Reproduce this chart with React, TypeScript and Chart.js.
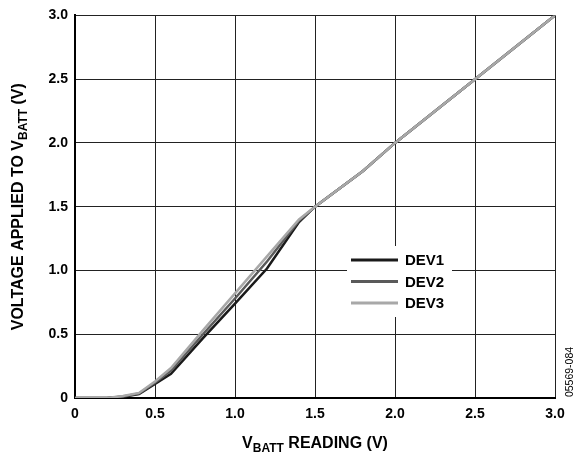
import React, { useEffect, useRef } from "react";
import { Chart, registerables } from "chart.js";

Chart.register(...registerables);

const xReading = [0, 0.2, 0.3, 0.4, 0.5, 0.6, 0.8, 1.0, 1.2, 1.4, 1.5, 1.8, 2.0, 2.5, 3.0];
const dev1 = [0, 0, 0.01, 0.03, 0.11, 0.19, 0.47, 0.74, 1.015, 1.38, 1.5, 1.78, 2.0, 2.5, 3.0];
const dev2 = [0, 0, 0.012, 0.035, 0.12, 0.215, 0.5, 0.78, 1.07, 1.39, 1.5, 1.78, 2.0, 2.5, 3.0];
const dev3 = [0, 0, 0.015, 0.04, 0.13, 0.235, 0.53, 0.82, 1.11, 1.4, 1.5, 1.78, 2.0, 2.5, 3.0];
const seriesNames = ["DEV1", "DEV2", "DEV3"];
const seriesColors = ["#1a1a1a", "#5a5a5a", "#a8a8a8"];
const tickValues = [0, 0.5, 1.0, 1.5, 2.0, 2.5, 3.0];
const xTitleMain = "V";
const xTitleSub = "BATT";
const xTitleRest = " READING (V)";
const yTitleMain = "VOLTAGE APPLIED TO V";
const yTitleSub = "BATT";
const yTitleRest = " (V)";
const sideNote = "05569-084";

const FONT = "'Liberation Sans', Arial, Helvetica, sans-serif";

function fmt(v: number) {
  return v === 0 ? "0" : v.toFixed(1);
}

const overlayPlugin = {
  id: "overlay",
  afterDraw(chart: any) {
    const ctx: CanvasRenderingContext2D = chart.ctx;
    const area = chart.chartArea;
    ctx.save();
    // legend
    const lx = 347, ly = 246, lw = 105, lh = 71;
    ctx.fillStyle = "#ffffff";
    ctx.fillRect(lx, ly, lw, lh);
    chart.data.datasets.forEach((ds: any, i: number) => {
      const y = 260 + i * 21.5;
      ctx.strokeStyle = ds.borderColor;
      ctx.lineWidth = 3;
      ctx.beginPath();
      ctx.moveTo(351, y);
      ctx.lineTo(398, y);
      ctx.stroke();
      ctx.fillStyle = "#000";
      ctx.font = `bold 15px ${FONT}`;
      ctx.textAlign = "left";
      ctx.textBaseline = "middle";
      ctx.fillText(ds.label, 405, y + 1);
    });
    // x title
    const mainF = `bold 16px ${FONT}`;
    const subF = `bold 12px ${FONT}`;
    ctx.fillStyle = "#000";
    ctx.textBaseline = "alphabetic";
    ctx.textAlign = "left";
    ctx.font = mainF;
    const w1 = ctx.measureText(xTitleMain).width;
    const w3 = ctx.measureText(xTitleRest).width;
    ctx.font = subF;
    const w2 = ctx.measureText(xTitleSub).width;
    const total = w1 + w2 + w3;
    const cx = (area.left + area.right) / 2;
    const x0 = cx - total / 2;
    const by = 448;
    ctx.font = mainF;
    ctx.fillText(xTitleMain, x0, by);
    ctx.font = subF;
    ctx.fillText(xTitleSub, x0 + w1, by + 4);
    ctx.font = mainF;
    ctx.fillText(xTitleRest, x0 + w1 + w2, by);

    // y title
    ctx.save();
    ctx.translate(23, (area.top + area.bottom) / 2);
    ctx.rotate(-Math.PI / 2);
    ctx.font = mainF;
    const v1 = ctx.measureText(yTitleMain).width;
    const v3 = ctx.measureText(yTitleRest).width;
    ctx.font = subF;
    const v2 = ctx.measureText(yTitleSub).width;
    const vt = v1 + v2 + v3;
    const y0 = -vt / 2;
    ctx.font = mainF;
    ctx.fillText(yTitleMain, y0, 0);
    ctx.font = subF;
    ctx.fillText(yTitleSub, y0 + v1, 4);
    ctx.font = mainF;
    ctx.fillText(yTitleRest, y0 + v1 + v2, 0);
    ctx.restore();

    // side note
    ctx.save();
    ctx.translate(570, 372);
    ctx.rotate(-Math.PI / 2);
    ctx.font = `10.5px ${FONT}`;
    ctx.textAlign = "center";
    ctx.textBaseline = "middle";
    ctx.fillStyle = "#000";
    ctx.fillText(sideNote, 0, 0);
    ctx.restore();
    ctx.restore();
  },
};

export default function App() {
  const ref = useRef<HTMLCanvasElement>(null);
  useEffect(() => {
    document.body.style.margin = "0";
    const series = [dev1, dev2, dev3];
    const chart = new Chart(ref.current as HTMLCanvasElement, {
      type: "line",
      data: {
        datasets: series.map((vals, i) => ({
          label: seriesNames[i],
          data: xReading.map((x, j) => ({ x, y: vals[j] })),
          borderColor: seriesColors[i],
          borderWidth: 2.5,
          pointRadius: 0,
          tension: 0,
          fill: false,
          order: series.length - i,
        })),
      },
      options: {
        animation: false,
        responsive: false,
        devicePixelRatio: 1,
        layout: { padding: { left: 0, top: 14, right: 20, bottom: 0 } },
        plugins: { legend: { display: false }, tooltip: { enabled: false } },
        scales: {
          x: {
            type: "linear",
            min: 0,
            max: 3,
            afterBuildTicks: (s: any) => {
              s.ticks = tickValues.map((v) => ({ value: v }));
            },
            afterFit: (s: any) => {
              s.height = 61;
            },
            ticks: {
              callback: (v: any) => fmt(Number(v)),
              color: "#000",
              font: { family: FONT, weight: "bold", size: 14 },
              padding: 8,
              maxRotation: 0,
            },
            grid: { color: "#222", lineWidth: 1, drawTicks: false },
            border: { color: "#000", width: 2 },
          },
          y: {
            type: "linear",
            min: 0,
            max: 3,
            afterBuildTicks: (s: any) => {
              s.ticks = tickValues.map((v) => ({ value: v }));
            },
            afterFit: (s: any) => {
              s.width = 75;
            },
            ticks: {
              callback: (v: any) => fmt(Number(v)),
              color: "#000",
              font: { family: FONT, weight: "bold", size: 14 },
              padding: 7,
            },
            grid: { color: "#222", lineWidth: 1, drawTicks: false },
            border: { color: "#000", width: 2 },
          },
        },
      },
      plugins: [overlayPlugin],
    } as any);
    return () => chart.destroy();
  }, []);
  return <canvas ref={ref} width={575} height={459} style={{ display: "block" }} />;
}
